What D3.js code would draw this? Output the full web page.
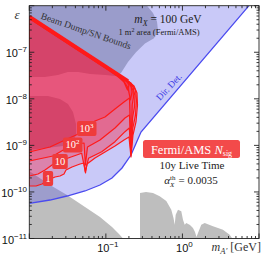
<!DOCTYPE html>
<html><head><meta charset="utf-8">
<script src="https://cdn.jsdelivr.net/npm/d3@7"></script>
<style>
html,body{margin:0;padding:0;background:#fff;}
svg{display:block;}
</style></head>
<body>
<svg id="c" width="266" height="258"></svg>
<script>
// ---------- data ----------
const xDomain = [0.01, 10];
const yDomain = [1e-11, 1e-6];
const xTickExponents = [-1, 0];
const yTickExponents = [-11, -10, -9, -8, -7];

const grayLeft = [[0.01,2.82e-10],[0.01864,1.409e-10],[0.0311,8.60e-11],[0.0534,4.75e-11],[0.0838,2.90e-11],[0.1203,1.766e-11],[0.1484,1.249e-11],[0.1674,1e-11],[0.01,1e-11]];
const grayRight = [[0.2791,1e-11],[0.2791,9.49e-11],[0.3343,9.97e-11],[0.4126,9.49e-11],[0.5047,8.06e-11],[0.6155,6.39e-11],[0.7154,4.16e-11],[0.7644,2.76e-11],[0.7925,1.98e-11],[0.8166,3.25e-11],[0.875,4.16e-11],[0.9662,3.84e-11],[1.017,2.53e-11],[1.070,1.98e-11],[1.123,2.15e-11],[1.255,1.95e-11],[1.374,1.68e-11],[1.459,1.379e-11],[1.526,1.077e-11],[1.597,1.313e-11],[1.763,1.98e-11],[1.953,2.15e-11],[2.507,1.83e-11],[3.385,1.545e-11],[4.142,1.207e-11],[4.479,1e-11]];

const dirDetLine = [[0.01,5.70e-11],[0.01864,6.71e-11],[0.0311,8.18e-11],[0.0534,1.048e-10],[0.0838,1.409e-10],[0.1202,1.992e-10],[0.1625,3.27e-10],[0.2129,6.21e-10],[0.2876,1.94e-9],[7.40,1e-6]];
const dirDetCorner = [0.01, 1e-6];

const beamDump = [[0.01,1e-6],[0.3444,1e-6],[0.4126,6.97e-7],[0.4654,4.60e-7],[0.4795,2.95e-7],[0.4251,1.99e-7],[0.3243,1.55e-7],[0.2475,1e-7],[0.1945,6.18e-8],[0.1576,3.585e-8],[0.1316,3.09e-8],[0.0974,3.25e-8],[0.0621,3.41e-8],[0.0433,3.77e-8],[0.032,3.77e-8],[0.0237,3.25e-8],[0.016,2.94e-8],[0.01,2.94e-8]];
const snBlob = [[0.01,1.15e-8],[0.01755,1.15e-8],[0.02518,9.91e-9],[0.032,7.74e-9],[0.03722,5.21e-9],[0.04073,2.88e-9],[0.04073,1.671e-9],[0.03612,1.019e-9],[0.01,7.96e-10]];

const diagStart = [0.01, 5.86e-7];
const diagEnd = [0.1945, 2.414e-8];

const contour1 = [[0.01,1.341e-10],[0.01223,1.341e-10],[0.01465,1.481e-10],[0.01755,1.806e-10],[0.02166,2.09e-10],[0.02518,2.20e-10],[0.02839,2.43e-10],[0.03015,2.96e-10],[0.03612,3.43e-10],[0.04593,3.98e-10],[0.05182,4.18e-10],[0.0542,2.55e-10],[0.05669,3.98e-10],[0.07211,5.36e-10],[0.09741,7.21e-10],[0.1316,9.70e-10],[0.1725,1.305e-9],[0.2005,1.514e-9],[0.2129,5.63e-10],[0.2261,1.671e-9],[0.2475,3.18e-9],[0.2589,7.37e-9],[0.2550,1.334e-8],[0.2330,1.885e-8],[0.1945,2.414e-8]];
const contour10 = [[0.01,2.20e-10],[0.01299,2.43e-10],[0.01603,2.96e-10],[0.0198,3.79e-10],[0.02518,4.62e-10],[0.0358,5.71e-10],[0.04834,6.76e-10],[0.05388,2.72e-10],[0.05933,5.28e-10],[0.08823,7.31e-10],[0.1316,1.2e-9],[0.1777,1.967e-9],[0.2023,2.36e-9],[0.2129,6.21e-10],[0.2247,2.36e-9],[0.2438,4.49e-9],[0.2512,9.43e-9],[0.2438,1.547e-8],[0.2129,2.186e-8],[0.1725,2.745e-8]];
const contour100 = [[0.01,4.62e-10],[0.0204,5.92e-10],[0.03079,8.78e-10],[0.03612,1.019e-9],[0.05182,1.125e-9],[0.05404,3.79e-10],[0.05755,9.23e-10],[0.0838,1.305e-9],[0.1316,2.36e-9],[0.1777,3.87e-9],[0.2035,4.49e-9],[0.2129,6.86e-10],[0.2227,3.87e-9],[0.2366,6.67e-9],[0.2401,1.150e-8],[0.2261,1.794e-8],[0.1888,2.536e-8],[0.153,3.12e-8]];
const contour1000 = [[0.01,7.21e-10],[0.01864,9.23e-10],[0.02926,1.305e-9],[0.04159,1.696e-9],[0.05502,2.36e-9],[0.07211,3.34e-9],[0.09741,4.07e-9],[0.1316,6.04e-9],[0.1725,8.54e-9],[0.2035,1.041e-8],[0.2129,7.96e-10],[0.2208,7.37e-9],[0.2295,1.094e-8],[0.2261,1.547e-8],[0.2005,2.186e-8],[0.1674,2.80e-8],[0.1357,3.55e-8]];
const contour1e4 = [[0.01,5.31e-7],[0.1203,3.67e-8],[0.1674,2.536e-8],[0.1945,1.708e-8],[0.2097,9.43e-9],[0.2194,1.401e-8],[0.2129,1.981e-8],[0.1833,2.475e-8]];
const contour1e5 = [[0.01,5.31e-7],[0.1066,4.26e-8],[0.144,3.02e-8],[0.1725,2.298e-8],[0.1916,1.547e-8],[0.2005,1.981e-8],[0.1833,2.51e-8]];
const contours = [contour1, contour10, contour100, contour1000, contour1e4, contour1e5];

const contourLabelBase = ["1", "10", "10", "10"];
const contourLabelExp = ["", "", "2", "3"];
const contourLabelAt = [[0.01755,1.944e-10],[0.02518,4.51e-10],[0.03667,1.019e-9],[0.05585,2.304e-9]];

// ---------- drawing ----------
const svg = d3.select("#c");
const x = d3.scaleLog().domain(xDomain).range([29.3, 259]);
const y = d3.scaleLog().domain(yDomain).range([238.5, 5.7]);
const line = d3.line().x(d => x(d[0])).y(d => y(d[1]));
const X0 = x.range()[0], X1 = x.range()[1], YT = y.range()[1], YB = y.range()[0];

svg.append("defs").append("clipPath").attr("id", "clip")
  .append("rect").attr("x", X0).attr("y", YT).attr("width", X1 - X0).attr("height", YB - YT);
const g = svg.append("g").attr("clip-path", "url(#clip)");

g.append("path").attr("d", line(grayLeft) + "Z").attr("fill", "#bebebe");
g.append("path").attr("d", line(grayRight) + "Z").attr("fill", "#bebebe");

g.append("path").attr("d", line(dirDetLine.concat([dirDetCorner])) + "Z")
  .attr("fill", "rgba(90,90,235,0.33)");
g.append("path").attr("d", line(dirDetLine)).attr("fill", "none")
  .attr("stroke", "#4b4bef").attr("stroke-width", 1.3);

g.append("path").attr("d", line(beamDump) + "Z").attr("fill", "rgba(80,85,130,0.38)");
g.append("path").attr("d", line(snBlob) + "Z").attr("fill", "rgba(80,85,130,0.38)");

contours.forEach(c => {
  g.append("path").attr("d", line([diagStart].concat(c)) + "Z")
    .attr("fill", "rgba(255,10,40,0.2)");
});
contours.forEach(c => {
  g.append("path").attr("d", line([diagStart].concat(c)) + "Z")
    .attr("fill", "none").attr("stroke", "#ff1a1a").attr("stroke-width", 1.2)
    .attr("stroke-linejoin", "round");
});
g.append("path").attr("d", line([diagStart, diagEnd])).attr("stroke", "#ff1a1a")
  .attr("stroke-width", 3.6).attr("fill", "none");

// frame and ticks
const fr = svg.append("g").attr("stroke", "#222").attr("stroke-width", 0.9);
fr.append("rect").attr("x", X0).attr("y", YT).attr("width", X1 - X0).attr("height", YB - YT).attr("fill", "none");
for (let e = -3; e <= 1; e++) for (let k = 1; k < 10; k++) {
  const v = k * Math.pow(10, e);
  if (v < xDomain[0] || v > xDomain[1]) continue;
  const px = x(v), len = k === 1 ? 5 : 2.5;
  fr.append("line").attr("x1", px).attr("x2", px).attr("y1", YB).attr("y2", YB - len);
  fr.append("line").attr("x1", px).attr("x2", px).attr("y1", YT).attr("y2", YT + len);
}
for (let e = -12; e <= -6; e++) for (let k = 1; k < 10; k++) {
  const v = k * Math.pow(10, e);
  if (v < yDomain[0] || v > yDomain[1]) continue;
  const py = y(v), len = k === 1 ? 5 : 2.5;
  fr.append("line").attr("y1", py).attr("y2", py).attr("x1", X0).attr("x2", X0 + len);
  fr.append("line").attr("y1", py).attr("y2", py).attr("x1", X1).attr("x2", X1 - len);
}

const sans = "'Liberation Sans', Arial, sans-serif";
const serif = "'Liberation Serif', 'Times New Roman', serif";

xTickExponents.forEach(e => {
  const t = svg.append("text").attr("x", x(Math.pow(10, e)) + 2).attr("y", 251.5)
    .attr("text-anchor", "middle").attr("font-family", sans).attr("font-size", 11).attr("fill", "#111");
  t.append("tspan").text("10");
  t.append("tspan").attr("font-size", 8).attr("dy", -5).text(e < 0 ? "\u2212" + (-e) : String(e));
});
yTickExponents.forEach(e => {
  const t = svg.append("text").attr("x", 27).attr("y", y(Math.pow(10, e)) + 5)
    .attr("text-anchor", "end").attr("font-family", sans).attr("font-size", 11).attr("fill", "#111");
  t.append("tspan").text("10");
  t.append("tspan").attr("font-size", 8).attr("dy", -5).text("\u2212" + (-e));
});

// axis labels
svg.append("text").attr("x", 17).attr("y", 19).attr("text-anchor", "middle")
  .attr("font-family", serif).attr("font-style", "italic").attr("font-size", 13).attr("fill", "#333").text("\u03b5");
{
  const t = svg.append("text").attr("x", 261).attr("y", 251).attr("text-anchor", "end")
    .attr("font-family", serif).attr("font-size", 12).attr("fill", "#333");
  t.append("tspan").attr("font-style", "italic").text("m");
  t.append("tspan").attr("font-style", "italic").attr("font-size", 8.5).attr("dy", 3).text("A\u2032");
  t.append("tspan").attr("dy", -3).text(" [GeV]");
}

// annotations
svg.append("text").attr("transform", "translate(85,34) rotate(19)").attr("text-anchor", "middle")
  .attr("font-family", serif).attr("font-size", 9.5).attr("fill", "#333").text("Beam Dump/SN Bounds");
{
  const t = svg.append("text").attr("x", 168).attr("y", 23).attr("text-anchor", "middle")
    .attr("font-family", serif).attr("font-size", 11.5).attr("fill", "#222");
  t.append("tspan").attr("font-style", "italic").text("m");
  t.append("tspan").attr("font-style", "italic").attr("font-size", 8).attr("dy", 2.5).text("X");
  t.append("tspan").attr("dy", -2.5).text(" = 100 GeV");
}
{
  const t = svg.append("text").attr("x", 159).attr("y", 35).attr("text-anchor", "middle")
    .attr("font-family", serif).attr("font-size", 8.5).attr("fill", "#222");
  t.append("tspan").text("1 m");
  t.append("tspan").attr("font-size", 6).attr("dy", -3).text("2");
  t.append("tspan").attr("dy", 3).text(" area (Fermi/AMS)");
}
svg.append("text").attr("transform", "translate(169,87) rotate(-47)").attr("text-anchor", "middle")
  .attr("dominant-baseline", "central").attr("font-family", serif).attr("font-size", 9.5)
  .attr("fill", "#3c3ce6").text("Dir. Det.");

// legend box
svg.append("rect").attr("x", 143).attr("y", 140).attr("width", 97).attr("height", 18)
  .attr("rx", 2.5).attr("fill", "#f34a4a");
{
  const t = svg.append("text").attr("x", 191.5).attr("y", 153.5).attr("text-anchor", "middle")
    .attr("font-family", serif).attr("font-size", 12.5).attr("fill", "#fff");
  t.append("tspan").text("Fermi/AMS ");
  t.append("tspan").attr("font-style", "italic").text("N");
  t.append("tspan").attr("font-size", 8).attr("dy", 2.5).text("sig");
}
svg.append("text").attr("x", 192).attr("y", 169).attr("text-anchor", "middle")
  .attr("font-family", serif).attr("font-size", 11).attr("fill", "#222").text("10y Live Time");
{
  const t = svg.append("text").attr("x", 191).attr("y", 183.5).attr("text-anchor", "middle")
    .attr("font-family", serif).attr("font-size", 11).attr("fill", "#222");
  t.append("tspan").attr("font-style", "italic").text("\u03b1");
  t.append("tspan").attr("font-size", 7).attr("dy", -4).text("th");
  t.append("tspan").attr("font-size", 7).attr("font-style", "italic").attr("dx", -5.5).attr("dy", 7).text("X");
  t.append("tspan").attr("dy", -3).attr("dx", 1.5).text(" = 0.0035");
}

// contour labels
contourLabelAt.forEach((p, i) => {
  const lg = svg.append("g");
  const t = lg.append("text").attr("x", x(p[0])).attr("y", y(p[1]) + 3.5)
    .attr("text-anchor", "middle").attr("font-family", serif).attr("font-size", 10.5).attr("fill", "#fff");
  t.append("tspan").text(contourLabelBase[i]);
  if (contourLabelExp[i]) t.append("tspan").attr("font-size", 7).attr("dy", -4).text(contourLabelExp[i]);
  const bb = t.node().getBBox();
  lg.insert("rect", "text").attr("x", bb.x - 2.5).attr("y", y(p[1]) - 7.5)
    .attr("width", bb.width + 5).attr("height", 15).attr("rx", 2).attr("fill", "#ef3b3b");
});
</script>
</body></html>
